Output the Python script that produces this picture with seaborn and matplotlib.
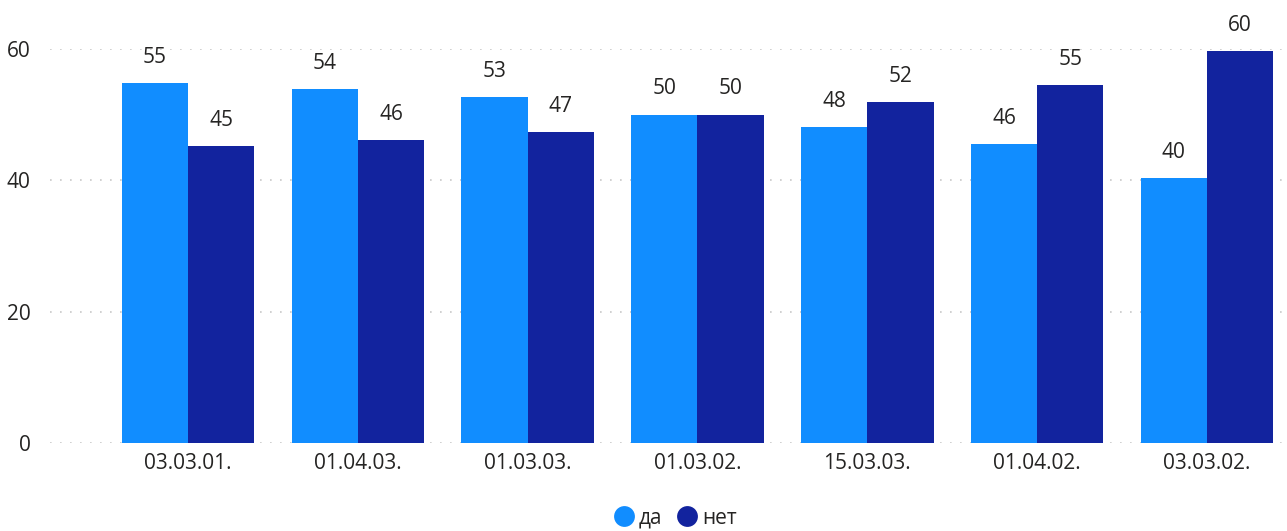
import numpy as np
import pandas as pd
import matplotlib
matplotlib.use("Agg")
import matplotlib.pyplot as plt
from matplotlib.lines import Line2D
import seaborn as sns

# Share of answers per date
dates = ["03.03.01.", "01.04.03.", "01.03.03.", "01.03.02.", "15.03.03.", "01.04.02.", "03.03.02."]
yes_share = [54.8, 53.9, 52.7, 50.0, 48.1, 45.5, 40.3]
no_share = [45.2, 46.1, 47.3, 50.0, 51.9, 54.5, 59.7]
series_names = ["да", "нет"]
series_colors = ["#118DFF", "#12239E"]
y_ticks = [0, 20, 40, 60]

df = pd.DataFrame({
    "date": dates * 2,
    "answer": [series_names[0]] * len(dates) + [series_names[1]] * len(dates),
    "share": yes_share + no_share,
})

sns.set_theme(style="white")
plt.rcParams["font.family"] = ["Open Sans", "DejaVu Sans"]
text_color = "#252423"

fig = plt.figure(figsize=(12.87, 5.31), dpi=100)
ax = fig.add_axes([50 / 1287, 1 - 443 / 531, (1285 - 50) / 1287, (443 - 49) / 531])

sns.barplot(data=df, x="date", y="share", hue="answer", order=dates,
            hue_order=series_names, palette=series_colors, width=0.78,
            saturation=1, linewidth=0, ax=ax, legend=False)

ax.set_xlim(-0.813, 6.46)
ax.set_ylim(0, 60)
ax.set_yticks(y_ticks)
ax.set_xlabel("")
ax.set_ylabel("")
for s in ax.spines.values():
    s.set_visible(False)
ax.grid(axis="y", color="#c8c8c8", linestyle=(0, (1, 5)), linewidth=1.2)
ax.grid(axis="x", visible=False)
ax.set_axisbelow(True)
ax.tick_params(axis="both", length=0, labelsize=15, colors=text_color)
ax.tick_params(axis="y", pad=14)
ax.tick_params(axis="x", pad=7)

for container in ax.containers:
    labels = [f"{int(np.floor(b.get_height() + 0.5))}" for b in container]
    ax.bar_label(container, labels=labels, padding=11, fontsize=15,
                 color=text_color, clip_on=False)

handles = [Line2D([], [], marker="o", linestyle="", markersize=15,
                  markerfacecolor=c, markeredgewidth=0) for c in series_colors]
fig.legend(handles, series_names, loc="center", bbox_to_anchor=(670 / 1287, 1 - 518 / 531),
           ncol=2, frameon=False, fontsize=15, handletextpad=-0.3,
           columnspacing=0.2, labelcolor=text_color, borderaxespad=0)

fig.savefig("out.png", dpi=100, facecolor="white")
